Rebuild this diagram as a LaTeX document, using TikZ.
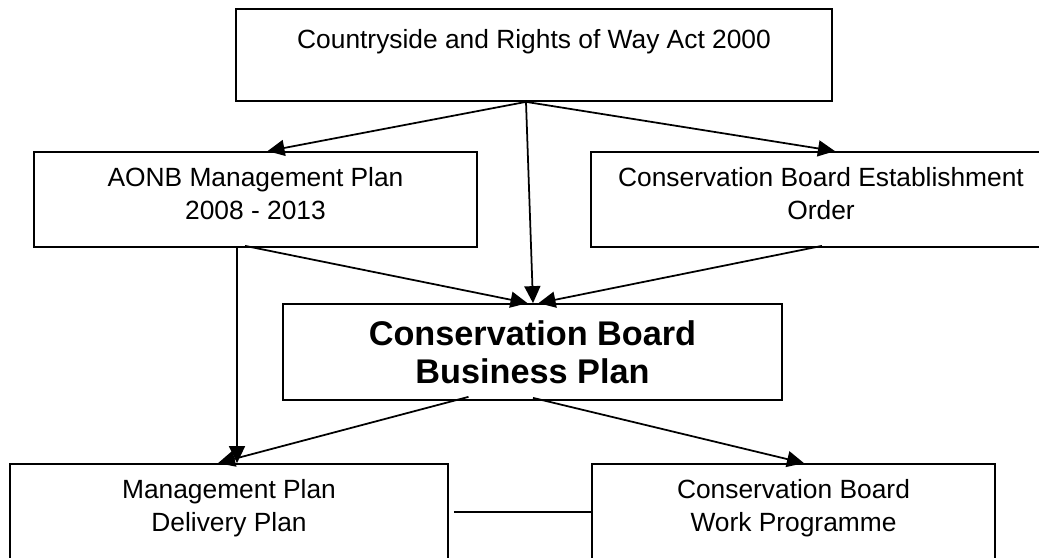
\documentclass[tikz,border=0pt]{standalone}
\usepackage{fontspec}
\setmainfont{Liberation Sans}
\usetikzlibrary{arrows.meta,calc}

\begin{document}
\begin{tikzpicture}
      [x=0.02cm,y=-0.02cm,line width=1pt,
      every node/.style={shape=rectangle,draw,align=center,inner sep=0pt,
        font=\fontsize{15}{18.75}\selectfont},
      planbox/.style={font=\fontsize{19.5}{21.6}\selectfont\bfseries},
      -{Triangle[length=0.34cm,width=0.32cm]}]
      \useasboundingbox (0,0) rectangle (1039,558);
      \node[minimum width=11.92cm,minimum height=1.84cm] (act) at (534,55)
        {Countryside and Rights of Way Act 2000\\ ~};
      \node[minimum width=8.86cm,minimum height=1.9cm] (aonb) at (255.5,199.5)
        {AONB Management Plan\\2008 - 2013\\[-12pt]~};
      \node[minimum width=9.2cm,minimum height=1.9cm] (order) at (821,199.5)
        {Conservation Board Establishment\\Order\\[-12pt]~};
      \node[planbox,minimum width=9.98cm,minimum height=1.92cm] (business) at (532.5,352)
        {Conservation Board\\Business Plan};
      \node[minimum width=8.76cm,minimum height=2.32cm] (delivery) at (229,522)
        {Management Plan\\Delivery Plan\\ ~};
      \node[minimum width=8.06cm,minimum height=2.32cm] (work) at (793.5,522)
        {Conservation Board\\Work Programme\\ ~};
      \draw ($(act.south)+(-8,0)$) -- ($(aonb.north)+(12,0)$);
      \draw ($(act.south)+(-8,0)$) -- ($(order.north)+(14,0)$);
      \draw ($(act.south)+(-8,0)$) -- ($(business.north)+(0.5,0)$);
      \draw ($(aonb.south)+(-10.5,-2)$) -- ($(business.north)+(-5,0)$);
      \draw ($(order.south)+(1,-2)$) -- ($(business.north)+(6,0)$);
      \draw ($(aonb.south)+(-18.5,0)$) -- ($(delivery.north)+(8,0)$);
      \draw ($(business.south)+(-64,-4)$) -- ($(delivery.north)+(-11,0)$);
      \draw ($(business.south)+(0.5,-3)$) -- ($(work.north)+(10.5,0)$);
      \draw[-] ($(delivery.east)+(5,-10)$) -- ($(work.west)+(0,-10)$);
\end{tikzpicture}
\end{document}
